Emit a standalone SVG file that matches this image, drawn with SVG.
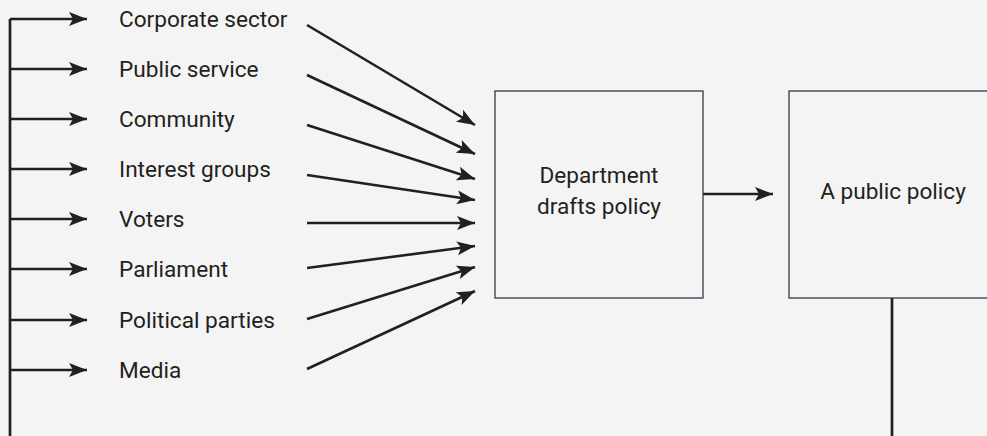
<svg xmlns="http://www.w3.org/2000/svg" width="987" height="436" viewBox="0 0 987 436">
<defs>
<marker id="ah" markerUnits="userSpaceOnUse" markerWidth="22" markerHeight="16" viewBox="-20 -8 22 16" refX="0" refY="0" orient="auto">
<path d="M0,0 L-18,-7 L-14,0 L-18,7 Z" fill="#231f20"/>
</marker>
<style>
.bg{fill:#f4f4f4}
.c{stroke:#231f20;stroke-width:2.7;fill:none}
.a{stroke:#231f20;stroke-width:2.6;fill:none;marker-end:url(#ah)}
.box{fill:#f4f4f4;stroke:#2f3d4a;stroke-width:1.3}
.t{font-family:Roboto,"Liberation Sans",sans-serif;font-size:22.6px;fill:#231f20}
.m{text-anchor:middle}
</style>
</defs>
<rect class="bg" x="0" y="0" width="987" height="436"/>
<g id="connectors">
<path class="c" d="M10,19 V436"/>
<path class="a" d="M10,19 H87"/>
<path class="a" d="M10,69 H87"/>
<path class="a" d="M10,119 H87"/>
<path class="a" d="M10,169 H87"/>
<path class="a" d="M10,219 H87"/>
<path class="a" d="M10,269 H87"/>
<path class="a" d="M10,320 H87"/>
<path class="a" d="M10,370 H87"/>
<path class="a" d="M307,25 L475,125"/>
<path class="a" d="M307,75 L475,154"/>
<path class="a" d="M307,125 L475,179"/>
<path class="a" d="M307,175 L475,200"/>
<path class="a" d="M307,223 L475,223"/>
<path class="a" d="M307,268 L475,246"/>
<path class="a" d="M307,319 L475,267"/>
<path class="a" d="M307,369 L475,291"/>
<path class="a" d="M703,194 H773"/>
<path class="c" d="M892,298 V436"/>
</g>
<g id="n-corporate"><text class="t" x="119" y="27">Corporate sector</text></g>
<g id="n-public"><text class="t" x="119" y="77">Public service</text></g>
<g id="n-community"><text class="t" x="119" y="127">Community</text></g>
<g id="n-interest"><text class="t" x="119" y="177">Interest groups</text></g>
<g id="n-voters"><text class="t" x="119" y="227">Voters</text></g>
<g id="n-parliament"><text class="t" x="119" y="277">Parliament</text></g>
<g id="n-parties"><text class="t" x="119" y="328">Political parties</text></g>
<g id="n-media"><text class="t" x="119" y="378">Media</text></g>
<g id="n-department">
<rect class="box" x="495" y="91" width="208" height="207"/>
<text class="t m" x="599" y="183">Department</text>
<text class="t m" x="599" y="214">drafts policy</text>
</g>
<g id="n-policy">
<rect class="box" x="789" y="91" width="208" height="207"/>
<text class="t m" x="893" y="199">A public policy</text>
</g>
</svg>
